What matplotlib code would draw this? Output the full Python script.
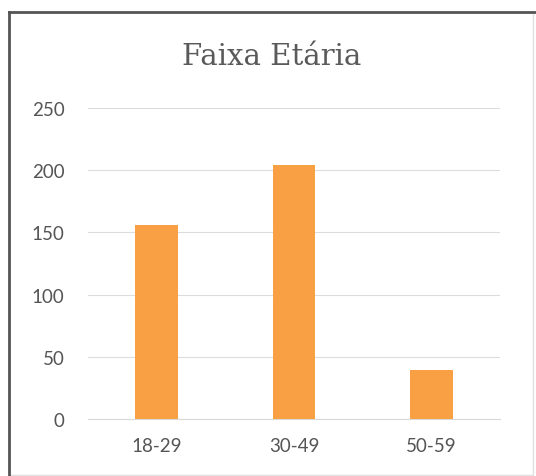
import matplotlib
matplotlib.use("Agg")
import matplotlib.pyplot as plt
from matplotlib.patches import Rectangle

# age groups and counts
FAIXAS = ["18-29", "30-49", "50-59"]
CONTAGEM = [156, 204, 39]
Y_TICKS = [0, 50, 100, 150, 200, 250]

W, H = 536, 477
fig = plt.figure(figsize=(W / 100, H / 100), dpi=100)
fig.patch.set_facecolor("white")

# axes box in pixel terms: x 88..500, y 109..420 (from top)
ax = fig.add_axes([88 / W, 57 / H, 412 / W, 311 / H])

x = list(range(len(FAIXAS)))
ax.bar(x, CONTAGEM, width=0.31, color="#F9A045", zorder=3)

ax.set_xlim(-0.5, 2.5)
ax.set_ylim(0, 250)
ax.set_yticks(Y_TICKS)
ax.set_xticks(x)
ax.set_xticklabels(FAIXAS)

for s in ["top", "right", "left"]:
    ax.spines[s].set_visible(False)
ax.spines["bottom"].set_color("#d9d9d9")
ax.spines["bottom"].set_linewidth(0.8)

ax.grid(axis="y", color="#dcdcdc", linewidth=0.8, zorder=0)
ax.tick_params(axis="both", length=0, labelsize=13.5, labelcolor="#555555")
for lbl in ax.get_xticklabels() + ax.get_yticklabels():
    lbl.set_fontfamily("Lato")
ax.tick_params(axis="x", pad=13)
ax.tick_params(axis="y", pad=17)

fig.text(272 / W, 1 - 57 / H, "Faixa Etária", ha="center", va="center",
         fontsize=21, color="#5a5a5a", family="DejaVu Serif")

# outer frame of the chart
fig.patches.append(Rectangle((9 / W, 1 / H), 524 / W, (H - 14) / H,
                             transform=fig.transFigure, fill=False,
                             edgecolor="#e0e0e0", linewidth=1))
fig.add_artist(plt.Line2D([9 / W, 9 / W], [0, 1 - 13 / H],
                          transform=fig.transFigure, color="#555555", lw=2))
fig.add_artist(plt.Line2D([9 / W, 1], [1 - 13 / H, 1 - 13 / H],
                          transform=fig.transFigure, color="#555555", lw=2))

fig.savefig("out.png", dpi=100)
